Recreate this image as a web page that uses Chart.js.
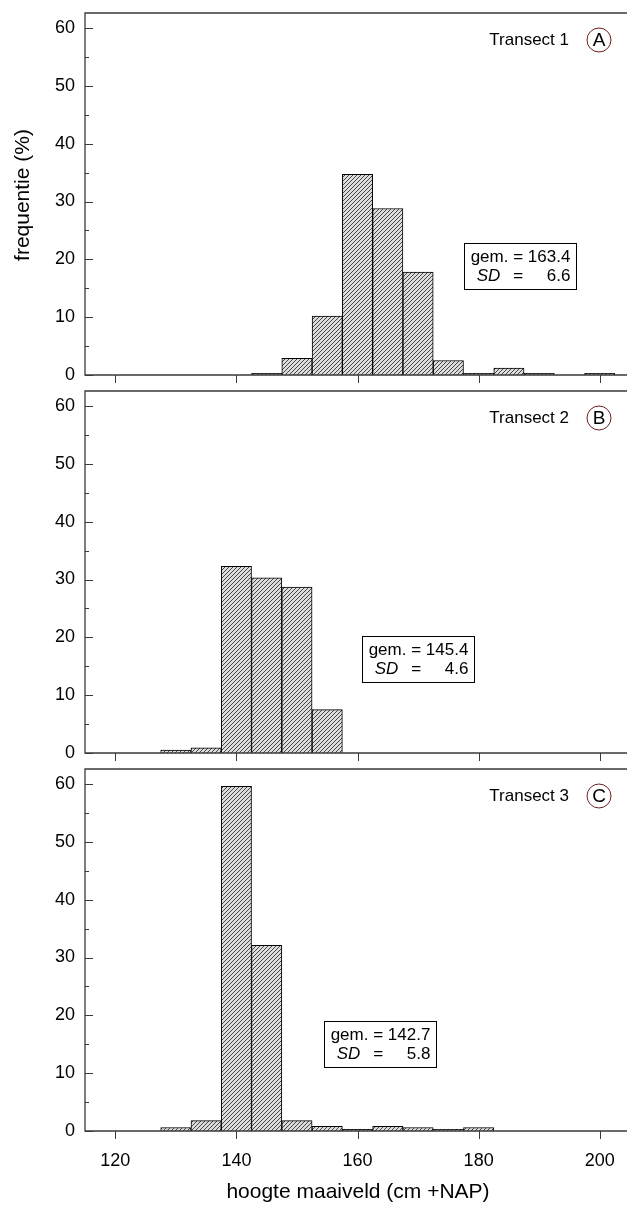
<!DOCTYPE html>
<html>
<head>
<meta charset="utf-8">
<script src="https://cdn.jsdelivr.net/npm/chart.js@4.4.1/dist/chart.umd.min.js"></script>
<style>
  html, body { margin: 0; padding: 0; background: #fff; }
  #page { position: relative; width: 627px; height: 1217px; overflow: hidden; }
  canvas { position: absolute; left: 0; }
</style>
</head>
<body>
<div id="page">
  <canvas id="panelA" width="627" height="384" style="top:0px"></canvas>
  <canvas id="panelB" width="627" height="378" style="top:384px"></canvas>
  <canvas id="panelC" width="627" height="455" style="top:762px"></canvas>
</div>
<script>
// hoogte maaiveld — frequentieverdeling per transect

// ---------- data ----------
const binCenters = [130, 135, 140, 145, 150, 155, 160, 165, 170, 175, 180, 185, 190, 195, 200];

const freqTransect1 = [null, null, null, 0.3, 2.9, 10.2, 34.7, 28.8, 17.8, 2.5, 0.3, 1.2, 0.3, null, 0.3];
const freqTransect2 = [0.5, 0.9, 32.3, 30.3, 28.7, 7.5, null, null, null, null, null, null, null, null, null];
const freqTransect3 = [0.6, 1.8, 59.6, 32.1, 1.8, 0.8, 0.3, 0.8, 0.6, 0.3, 0.6, null, null, null, null];

const xTickValues = [120, 140, 160, 180, 200];
const yTickValues = [0, 10, 20, 30, 40, 50, 60];
const yMinorValues = [5, 15, 25, 35, 45, 55];

const panelLabels = ["Transect 1", "Transect 2", "Transect 3"];
const panelLetters = ["A", "B", "C"];
const panelMeans = ["163.4", "145.4", "142.7"];
const panelSDs = ["6.6", "4.6", "5.8"];

// ---------- look ----------
const FONT = "'Liberation Sans', Arial, Helvetica, sans-serif";
const AXIS_COLOR = "#3a3a3a";

function hatchPattern(ctx) {
    const tile = document.createElement("canvas");
    tile.width = 4;
    tile.height = 4;
    const g = tile.getContext("2d");
    g.fillStyle = "#dcdcdc";
    g.fillRect(0, 0, 4, 4);
    g.fillStyle = "#474747";
    for (let i = 0; i < 4; i++) g.fillRect(i, 3 - i, 1, 1);
    return ctx.createPattern(tile, "repeat");
}

// frame, inward/outward ticks, labels and stats box
const panelDecor = {
    id: "panelDecor",
    afterDraw(chart, args, opts) {
        const { ctx, chartArea: a, scales } = chart;
        const x = scales.x, y = scales.y;

        ctx.save();
        ctx.strokeStyle = AXIS_COLOR;
        ctx.lineWidth = 1.3;

        // frame: top, left, bottom
        ctx.beginPath();
        ctx.moveTo(a.right + 2, a.top);
        ctx.lineTo(a.left, a.top);
        ctx.lineTo(a.left, a.bottom);
        ctx.lineTo(a.right + 2, a.bottom);
        ctx.stroke();

        // y ticks pointing inward
        ctx.lineWidth = 1;
        ctx.beginPath();
        yTickValues.forEach(v => {
            const py = Math.round(y.getPixelForValue(v)) + 0.5;
            ctx.moveTo(a.left, py);
            ctx.lineTo(a.left + 8, py);
        });
        yMinorValues.forEach(v => {
            const py = Math.round(y.getPixelForValue(v)) + 0.5;
            ctx.moveTo(a.left, py);
            ctx.lineTo(a.left + 4, py);
        });
        // x ticks pointing outward
        xTickValues.forEach(v => {
            const px = Math.round(x.getPixelForValue(v)) + 0.5;
            ctx.moveTo(px, a.bottom);
            ctx.lineTo(px, a.bottom + 8);
        });
        ctx.stroke();

        // transect label + circled letter
        const ly = a.top + 27;
        ctx.fillStyle = "#000";
        ctx.font = "17px " + FONT;
        ctx.textAlign = "right";
        ctx.textBaseline = "middle";
        ctx.fillText(opts.label, 569, ly);

        ctx.beginPath();
        ctx.arc(599, ly, 12, 0, Math.PI * 2);
        ctx.strokeStyle = "#6b1f1f";
        ctx.lineWidth = 1;
        ctx.stroke();
        ctx.font = "19px " + FONT;
        ctx.textAlign = "center";
        ctx.fillText(opts.letter, 599, ly + 1);

        // stats box, anchored in data units
        const bx = Math.round(x.getPixelForValue(opts.boxX)) + 0.5;
        const by = Math.round(y.getPixelForValue(opts.boxY)) + 0.5;
        const bw = 112, bh = 46;
        ctx.fillStyle = "#fff";
        ctx.fillRect(bx, by, bw, bh);
        ctx.strokeStyle = "#000";
        ctx.strokeRect(bx, by, bw, bh);

        ctx.fillStyle = "#000";
        ctx.font = "17px " + FONT;
        ctx.textBaseline = "middle";
        ctx.textAlign = "left";
        const line1 = "gem. = " + opts.mean;
        const w1 = ctx.measureText(line1).width;
        const x1 = bx + (bw - w1) / 2;
        ctx.fillText(line1, x1, by + 14);
        const eqX = x1 + ctx.measureText("gem. ").width + ctx.measureText("=").width / 2;
        ctx.textAlign = "center";
        ctx.fillText("=", eqX, by + 33);
        ctx.textAlign = "right";
        ctx.fillText(opts.sd, x1 + w1, by + 33);
        ctx.font = "italic 17px " + FONT;
        ctx.textAlign = "left";
        ctx.fillText("SD", x1 + 6, by + 33);

        // axis titles
        ctx.font = "21px " + FONT;
        ctx.textAlign = "center";
        if (opts.yTitle) {
            ctx.save();
            ctx.translate(23, 195);
            ctx.rotate(-Math.PI / 2);
            ctx.fillText(opts.yTitle, 0, 0);
            ctx.restore();
        }
        if (opts.xTitle) {
            ctx.fillText(opts.xTitle, 358, a.bottom + 61);
        }
        ctx.restore();
    }
};

function makePanel(canvasId, values, idx, cfg) {
    const canvas = document.getElementById(canvasId);
    const ctx = canvas.getContext("2d");

    return new Chart(canvas, {
        type: "bar",
        data: {
            datasets: [{
                data: binCenters.map((c, i) => ({ x: c, y: values[i] })),
                backgroundColor: hatchPattern(ctx),
                borderColor: "#000",
                borderWidth: 1,
                barPercentage: 1,
                categoryPercentage: 1
            }]
        },
        options: {
            responsive: false,
            animation: false,
            events: [],
            layout: { padding: { top: cfg.padTop, left: 0, right: 0, bottom: 0 } },
            plugins: {
                legend: { display: false },
                tooltip: { enabled: false },
                panelDecor: {
                    label: panelLabels[idx],
                    letter: panelLetters[idx],
                    mean: panelMeans[idx],
                    sd: panelSDs[idx],
                    boxX: cfg.boxX,
                    boxY: cfg.boxY,
                    yTitle: cfg.yTitle,
                    xTitle: cfg.xTitle
                }
            },
            scales: {
                x: {
                    type: "linear",
                    min: 115,
                    max: 204.5,
                    offset: false,
                    grid: { display: false, drawTicks: false },
                    border: { display: false },
                    afterBuildTicks: s => { s.ticks = xTickValues.map(v => ({ value: v })); },
                    afterFit: s => {
                        s.height = cfg.xHeight;
                        s.paddingLeft = 0;
                        s.paddingRight = 0;
                    },
                    ticks: {
                        display: cfg.showXLabels,
                        color: "#000",
                        padding: 19,
                        font: { family: FONT, size: 18 }
                    }
                },
                y: {
                    min: 0,
                    max: 62.6,
                    grid: { display: false, drawTicks: false },
                    border: { display: false },
                    afterBuildTicks: s => { s.ticks = yTickValues.map(v => ({ value: v })); },
                    afterFit: s => {
                        s.width = 85;
                        s.paddingTop = 0;
                        s.paddingBottom = 0;
                    },
                    ticks: {
                        color: "#000",
                        padding: 10,
                        font: { family: FONT, size: 18 }
                    }
                }
            }
        },
        plugins: [panelDecor]
    });
}

makePanel("panelA", freqTransect1, 0, {
    padTop: 13, xHeight: 9, showXLabels: false,
    boxX: 177.6, boxY: 22.8, yTitle: "frequentie (%)"
});
makePanel("panelB", freqTransect2, 1, {
    padTop: 7, xHeight: 9, showXLabels: false,
    boxX: 160.7, boxY: 20.3
});
makePanel("panelC", freqTransect3, 2, {
    padTop: 7, xHeight: 86, showXLabels: true,
    boxX: 154.5, boxY: 19.1, xTitle: "hoogte maaiveld (cm +NAP)"
});
</script>
</body>
</html>
